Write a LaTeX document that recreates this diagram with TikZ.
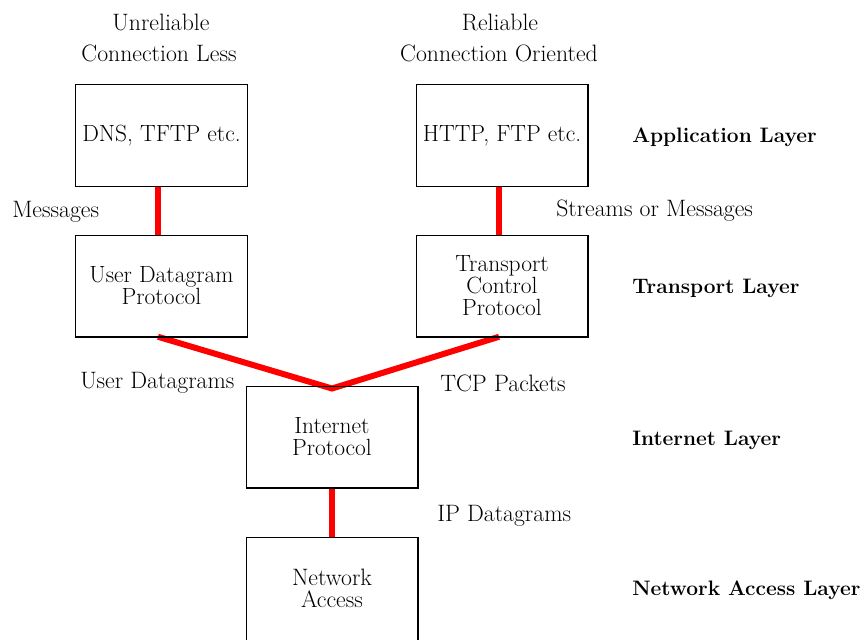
\documentclass[tikz,border=0pt]{standalone}
\usepackage{fontspec}
\setmainfont{Latin Modern Roman}
\usetikzlibrary{calc}
\begin{document}
\begin{tikzpicture}[x=0.75pt,y=-0.75pt,
  box/.style={minimum width=171*0.75pt,minimum height=101*0.75pt,align=center,inner sep=0pt,font=\fontsize{17.6}{16.5}\selectfont},
  frame/.style={line width=1.1pt},
  lbl/.style={inner sep=0pt,align=center,font=\fontsize{17.8}{16.5}\selectfont},
  layer/.style={inner sep=0pt,anchor=west,font=\fontsize{15.7}{17}\selectfont\bfseries},
  link/.style={draw=red,line width=4.5pt}]
\useasboundingbox (0,0) rectangle (863,639);
\node[box] (dns) at (161.5,135.5) {DNS, TFTP etc.};
\node[box] (http) at (502,135.5) {HTTP, FTP etc.};
\node[box] (udp) at (161.5,286) {User Datagram\\Protocol};
\node[box] (tcp) at (502,286) {Transport\\Control\\Protocol};
\node[box] (ip) at (332,437) {Internet\\Protocol};
\node[box,minimum height=140*0.75pt] (na) at (332,608) {};
\node[lbl] (natext) at (332,588) {Network\\Access};
\coordinate (apex) at (332,388.5);
\coordinate (udpout) at ($(udp.south)+(-3.5,0)$);
\coordinate (tcpout) at ($(tcp.south)+(-3,0)$);
\draw[link] ($(dns.south)+(-3.5,0)$) -- ($(udp.north)+(-3.5,0)$);
\draw[link] ($(http.south)+(-3,0)$) -- ($(tcp.north)+(-3,0)$);
\draw[link] (udpout) -- (apex) -- (tcpout);
\draw[link] (ip.south) -- (na.north);
% box borders on top of the links
\foreach \b in {dns,http,udp,tcp,ip,na}
  \draw[frame] (\b.south west) rectangle (\b.north east);
% headings
\node[lbl] (unrel) at (161,22) {Unreliable};
\node[lbl] (cless) at (159,53) {Connection Less};
\node[lbl] (rel) at (500,22) {Reliable};
\node[lbl] (corient) at (499,53) {Connection Oriented};
% connector labels
\node[lbl,anchor=west] (msg) at (12,212) {Messages};
\node[lbl,anchor=west] (stream) at (556,211) {Streams or Messages};
\node[lbl,anchor=west] (udg) at (80,383) {User Datagrams};
\node[lbl,anchor=west] (tcpp) at (440,383) {TCP Packets};
\node[lbl,anchor=west] (ipd) at (437,516) {IP Datagrams};
% layer labels
\node[layer] (app) at (632,137) {Application Layer};
\node[layer] (trans) at (632,288) {Transport Layer};
\node[layer] (inet) at (632,440) {Internet Layer};
\node[layer] (netacc) at (632,590) {Network Access Layer};
\end{tikzpicture}
\end{document}
